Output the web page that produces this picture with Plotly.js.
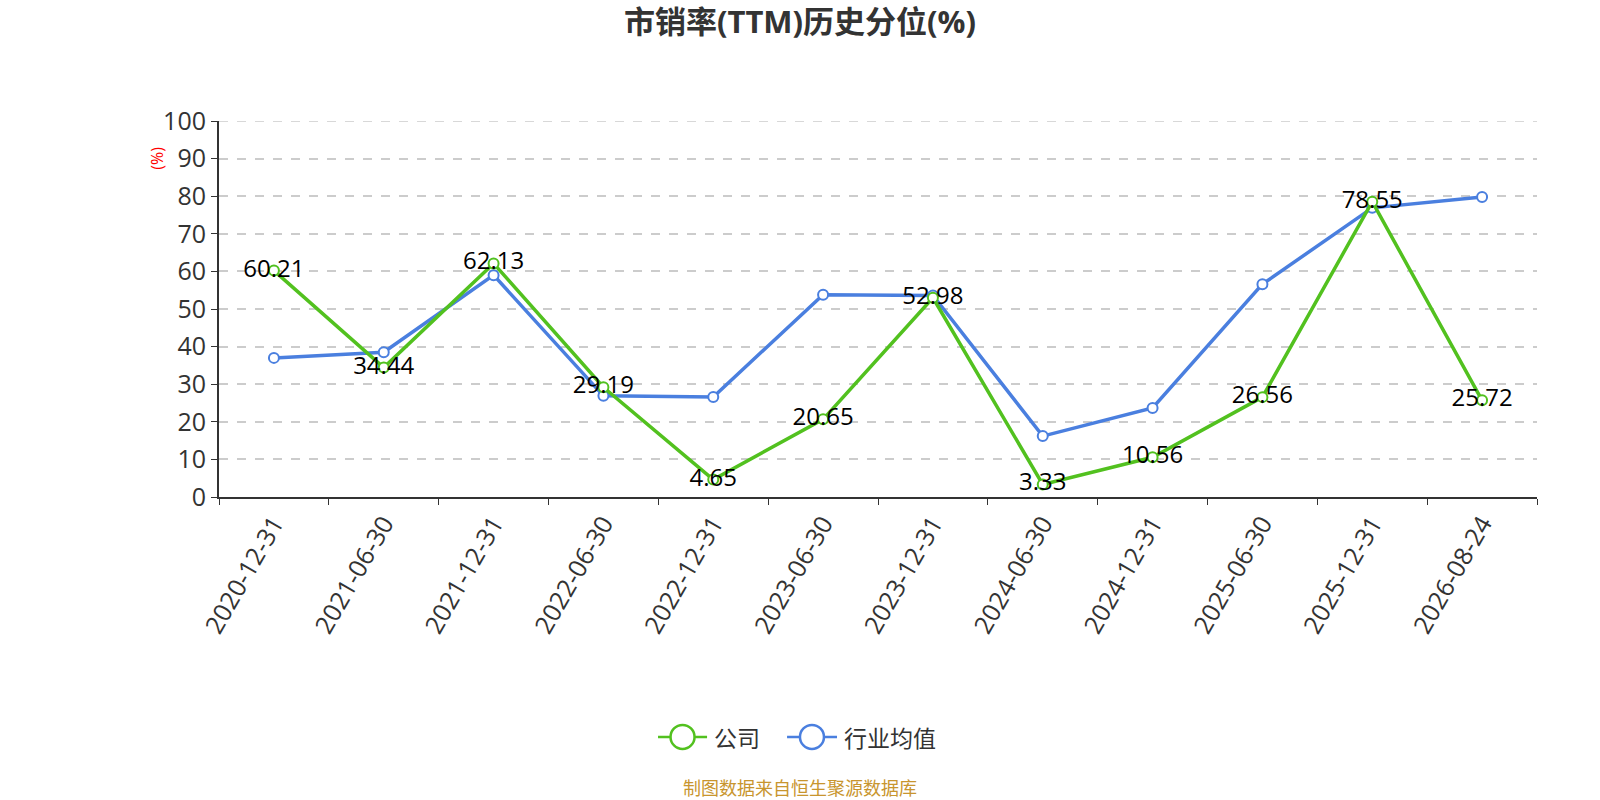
<!DOCTYPE html>
<html>
<head>
<meta charset="utf-8">
<script src="https://cdn.plot.ly/plotly-3.0.1.min.js"></script>
<style>
  html, body { margin: 0; padding: 0; background: #fff; }
  #chart { width: 1600px; height: 800px; }
</style>
</head>
<body>
<div id="chart"></div>
<script>
var dates = ['2020-12-31', '2021-06-30', '2021-12-31', '2022-06-30', '2022-12-31', '2023-06-30',
             '2023-12-31', '2024-06-30', '2024-12-31', '2025-06-30', '2025-12-31', '2026-08-24']
var company = [60.21, 34.44, 62.13, 29.19, 4.65, 20.65, 52.98, 3.33, 10.56, 26.56, 78.55, 25.72]
var industry = [37.0, 38.5, 59.0, 26.9, 26.6, 53.8, 53.6, 16.2, 23.7, 56.6, 76.9, 79.8]
var yTicks = [0, 10, 20, 30, 40, 50, 60, 70, 80, 90, 100]
var seriesNames = ['公司', '行业均值']

var baseFont = '"Open Sans", "Noto Sans CJK SC", sans-serif'
var cjkFont = '"Noto Sans CJK SC", sans-serif'
var green = '#52c11f'
var blue = '#4a7fdf'

var industryTrace = {
  x: dates,
  y: industry,
  name: seriesNames[1],
  type: 'scatter',
  mode: 'lines+markers',
  line: {color: blue, width: 3.5},
  marker: {symbol: 'circle', size: 10, color: '#fff', line: {color: blue, width: 2}},
  hoverinfo: 'x+y'
}

var companyTrace = {
  x: dates,
  y: company,
  name: seriesNames[0],
  type: 'scatter',
  mode: 'lines+markers+text',
  text: company.map(function (v) { return v.toFixed(2) }),
  textposition: 'middle center',
  textfont: {family: baseFont, size: 24, color: '#000'},
  line: {color: green, width: 3.5},
  marker: {symbol: 'circle', size: 10, color: '#fff', line: {color: green, width: 2}},
  hoverinfo: 'x+y'
}

// hand-drawn legend (plotly legend symbols are too small)
function legendItem(color, x0, x1, cx, tx, label) {
  var shapes = [
    {type: 'line', xref: 'paper', yref: 'paper', x0: x0, x1: x1, y0: -0.638, y1: -0.638,
     line: {color: color, width: 2.5}},
    {type: 'circle', xref: 'paper', yref: 'paper', xsizemode: 'pixel', ysizemode: 'pixel',
     xanchor: cx, yanchor: -0.638, x0: -12, x1: 12, y0: -12, y1: 12,
     fillcolor: '#fff', line: {color: color, width: 2.5}}
  ]
  var ann = {text: label, xref: 'paper', yref: 'paper', x: tx, y: -0.638,
    xanchor: 'left', yanchor: 'middle', showarrow: false,
    font: {family: cjkFont, size: 23, color: '#333'}}
  return {shapes: shapes, ann: ann}
}
var lg1 = legendItem(green, 0.3331, 0.3703, 0.3517, 0.3740, seriesNames[0])
var lg2 = legendItem(blue, 0.4310, 0.4689, 0.4499, 0.4728, seriesNames[1])

// top gridline (plotly drops the one sitting on the plot edge)
var topGrid = {type: 'line', xref: 'paper', yref: 'y', x0: 0, x1: 1,
  y0: yTicks[yTicks.length - 1], y1: yTicks[yTicks.length - 1],
  line: {color: '#cccccc', width: 1.5, dash: 'dash'}, layer: 'below'}

var layout = {
  width: 1600,
  height: 800,
  paper_bgcolor: '#fff',
  plot_bgcolor: '#fff',
  font: {family: baseFont, color: '#333'},
  margin: {l: 219, r: 63, t: 121, b: 303},
  title: {
    text: '<b>市销率(TTM)历史分位(%)</b>',
    font: {family: baseFont, size: 31, color: '#333'},
    x: 0.5, xanchor: 'center',
    y: 0.972, yanchor: 'middle'
  },
  showlegend: false,
  xaxis: {
    type: 'category',
    categoryorder: 'array',
    categoryarray: dates,
    range: [-0.5, dates.length - 0.5],
    tickangle: -60,
    tickfont: {family: baseFont, size: 25, color: '#333'},
    showline: true,
    linecolor: '#333',
    linewidth: 2,
    ticks: 'outside',
    ticklen: 6,
    tickcolor: '#333',
    tickson: 'boundaries',
    showgrid: false,
    zeroline: false
  },
  yaxis: {
    range: [0, 100],
    tickvals: yTicks,
    tickfont: {family: baseFont, size: 25, color: '#333'},
    showline: true,
    linecolor: '#333',
    linewidth: 2,
    ticks: 'outside',
    ticklen: 6,
    tickcolor: '#333',
    showgrid: true,
    gridcolor: '#cccccc',
    gridwidth: 1.5,
    griddash: 'dash',
    zeroline: false
  },
  shapes: [topGrid].concat(lg1.shapes, lg2.shapes),
  annotations: [
    {
      text: '(%)',
      textangle: -90,
      xref: 'paper', yref: 'paper',
      x: -0.047, y: 0.9, xanchor: 'center', yanchor: 'middle',
      showarrow: false,
      font: {family: baseFont, size: 16, color: '#ff0000'}
    },
    {
      text: '制图数据来自恒生聚源数据库',
      xref: 'paper', yref: 'paper',
      x: 0.4408, y: -0.77, xanchor: 'center', yanchor: 'middle',
      showarrow: false,
      font: {family: cjkFont, size: 18, color: '#c8952e'}
    },
    lg1.ann,
    lg2.ann
  ]
}

Plotly.newPlot('chart', [industryTrace, companyTrace], layout, {displayModeBar: false})
</script>
</body>
</html>
